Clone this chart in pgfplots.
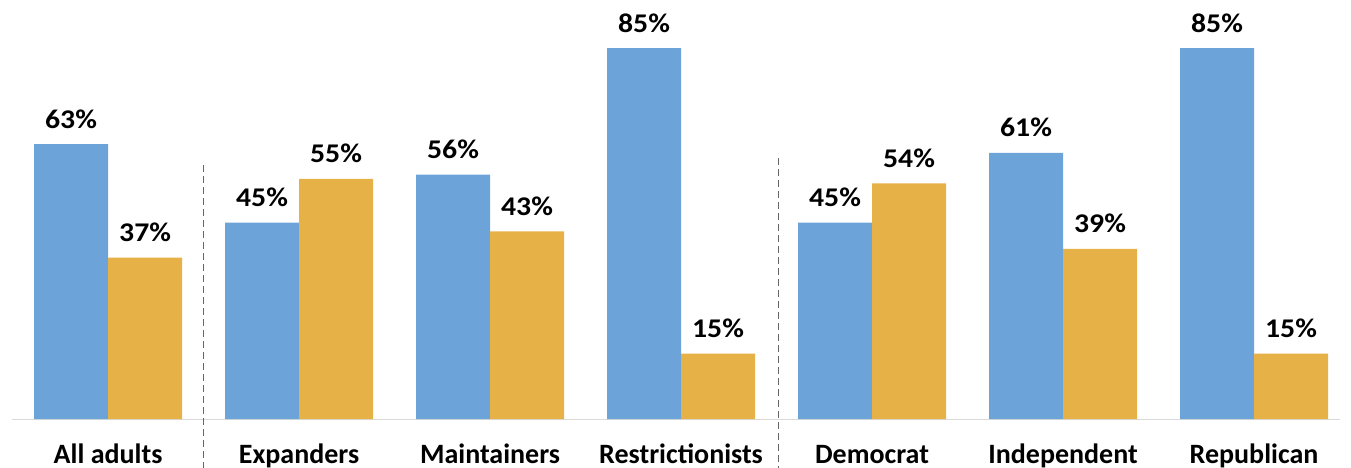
\documentclass[border=0pt]{standalone}
\usepackage{fontspec}
\setmainfont{Carlito}
\newfontfamily\valfont{Carlito}[FakeStretch=1.1]
\usepackage{pgfplots}
\pgfplotsset{compat=1.18}

\definecolor{barblue}{RGB}{108,163,216}
\definecolor{bargold}{RGB}{230,177,70}

\begin{document}
\begin{tikzpicture}
\path[use as bounding box] (-12pt,-49pt) rectangle (1339pt,419pt);
\begin{axis}[
    scale only axis,
    width=1328pt, height=419pt,
    xmin=-0.503, xmax=6.45,
    ymin=0, ymax=96,
    ybar=0pt,
    bar width=74pt,
    clip=false,
    hide y axis,
    axis x line*=bottom,
    x axis line style={-, draw=black!15, line width=0.8pt},
    xtick=data,
    xticklabels={All adults, Expanders, Maintainers, Restrictionists, Democrat, Independent, Republican},
    xtick style={draw=none},
    major tick length=0pt,
    xticklabel style={anchor=base, yshift=-44pt, font=\fontsize{28}{30}\selectfont\bfseries},
    /pgf/number format/assume math mode=true,
    nodes near coords={\pgfmathprintnumber{\pgfplotspointmeta}\%},
    every node near coord/.append style={anchor=base, yshift=16pt, font=\valfont\fontsize{27}{29}\selectfont\bfseries, text=black},
]
\addplot[fill=barblue, draw=none] coordinates {
    (0,63) (1,45) (2,56) (3,85) (4,45) (5,61) (6,85)
};
\addplot[fill=bargold, draw=none] coordinates {
    (0,37) (1,55) (2,43) (3,15) (4,54) (5,39) (6,15)
};
\draw[dash pattern=on 7pt off 4pt, black!60, line width=1.4pt]
    (axis cs:0.5,58.2) -- ([yshift=-49pt]axis cs:0.5,0);
\draw[dash pattern=on 7pt off 4pt, black!60, line width=1.4pt]
    (axis cs:3.51,59.8) -- ([yshift=-49pt]axis cs:3.51,0);
\end{axis}
\end{tikzpicture}
\end{document}
